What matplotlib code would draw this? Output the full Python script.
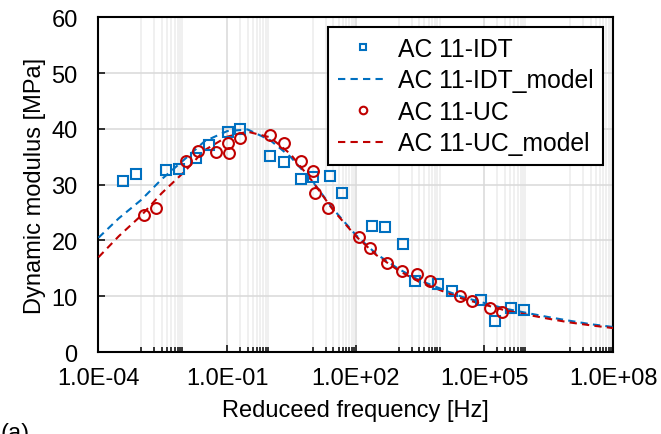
import matplotlib
matplotlib.use('Agg')
import matplotlib.pyplot as plt
import matplotlib.ticker as mticker

plt.rcParams['font.family'] = ['Liberation Sans', 'DejaVu Sans']

idt_f = [3.8e-4, 7.5e-4, 3.76e-3, 7.6e-3, 1.85e-2, 3.8e-2, 0.104, 0.2, 1.0, 2.17, 5.24, 10.3,
         25.3, 49, 241, 478, 1256, 2432, 8.5e3, 1.75e4, 8.45e4, 1.79e5, 4.24e5, 8.2e5]
idt_e = [30.7, 31.9, 32.6, 32.8, 34.8, 37.2, 39.4, 40.0, 35.2, 34.0, 31.0, 31.3,
         31.5, 28.5, 22.65, 22.4, 19.4, 12.7, 12.2, 11.0, 9.3, 5.6, 7.85, 7.55]

uc_f = [1.15e-3, 2.16e-3, 1.1e-2, 2.07e-2, 5.5e-2, 0.104, 0.111, 0.2, 1.0, 2.13, 5.24, 10.0,
        11.3, 23, 116, 217, 550, 1190, 2670, 5250, 2.66e4, 5.1e4, 1.32e5, 2.56e5]
uc_e = [24.6, 25.8, 34.3, 36.0, 35.9, 37.5, 35.7, 38.4, 38.9, 37.4, 34.3, 32.5,
        28.5, 25.9, 20.6, 18.6, 16.0, 14.5, 14.0, 12.8, 10.1, 9.07, 7.85, 7.1]

# model curves
mod_f = [1e-4, 3e-4, 1e-3, 3e-3, 1e-2, 3e-2, 1e-1, 3e-1, 1, 3, 10, 30, 100, 300,
         1e3, 3e3, 1e4, 3e4, 1e5, 3e5, 1e6, 3e6, 1e7, 3e7, 1e8]
idt_mod = [20.5, 24.0, 27.3, 31.0, 34.5, 37.8, 39.6, 39.9, 38.0, 35.0, 30.5, 25.6, 21.0, 17.6,
           14.9, 12.9, 11.3, 9.9, 8.8, 7.8, 7.0, 6.3, 5.6, 5.0, 4.5]
uc_mod = [17.0, 20.8, 24.5, 28.5, 32.3, 36.2, 38.6, 39.5, 38.5, 35.5, 30.5, 25.4, 20.8, 17.4,
          14.6, 12.6, 11.0, 9.6, 8.5, 7.5, 6.7, 6.0, 5.3, 4.8, 4.3]

blue = '#0070C0'
red = '#C00000'

fig = plt.figure(figsize=(6.61, 4.35), dpi=100)
ax = fig.add_axes([0.149, 0.1883, 0.7784, 0.7696])

ax.plot(idt_f, idt_e, 's', ms=7.0, mfc='none', mec=blue, mew=1.5, label='AC 11-IDT', zorder=4)
ax.plot(mod_f, idt_mod, '--', color=blue, lw=1.5, dashes=(3.5, 2.5), label='AC 11-IDT_model', zorder=3)
ax.plot(uc_f, uc_e, 'o', ms=7.8, mfc='none', mec=red, mew=1.5, label='AC 11-UC', zorder=4)
ax.plot(mod_f, uc_mod, '--', color=red, lw=1.5, dashes=(3.5, 2.5), label='AC 11-UC_model', zorder=3)

ax.set_xscale('log')
ax.set_xlim(1e-4, 1e8)
ax.set_ylim(0, 60)

major = [1e-4, 1e-1, 1e2, 1e5, 1e8]
minor = []
for e in [-3, -1, 1, 3, 5, 7]:
    for k in range(1, 10):
        v = k * 10.0 ** e
        if e in (-1, 5) and k == 1:
            continue
        minor.append(v)
ax.xaxis.set_major_locator(mticker.FixedLocator(major))
ax.xaxis.set_minor_locator(mticker.FixedLocator(minor))
ax.xaxis.set_major_formatter(mticker.FuncFormatter(lambda v, p: '%.1E' % v))
ax.xaxis.set_minor_formatter(mticker.NullFormatter())
ax.set_yticks(range(0, 61, 10))

ax.grid(True, which='major', color='#d9d9d9', lw=1.1)
ax.grid(True, which='minor', axis='x', color='#ececec', lw=1.1)
ax.set_axisbelow(True)

ax.tick_params(which='major', direction='in', length=5, width=1.1, labelsize=17, colors='black')
ax.tick_params(which='minor', direction='in', length=3.5, width=1.1)
ax.tick_params(axis='x', which='major', pad=11)
ax.tick_params(axis='y', which='major', pad=15)
for s in ax.spines.values():
    s.set_linewidth(1.5)
    s.set_color('black')

ax.set_xlabel('Reduceed frequency [Hz]', fontsize=17, labelpad=7)
ax.set_ylabel('Dynamic modulus [MPa]', fontsize=17, labelpad=4)

leg = ax.legend(loc='upper right', bbox_to_anchor=(0.9806, 0.971), borderaxespad=0,
                fontsize=17.8, frameon=True, fancybox=False, edgecolor='black', framealpha=1,
                handlelength=2.0, handletextpad=0.4, labelspacing=0.3,
                borderpad=0.4, markerscale=0.7)
leg.get_frame().set_linewidth(1.5)

fig.text(0.0, 0.028, '(a)', fontsize=17, va='top', ha='left')

plt.savefig('out.png', dpi=100)
